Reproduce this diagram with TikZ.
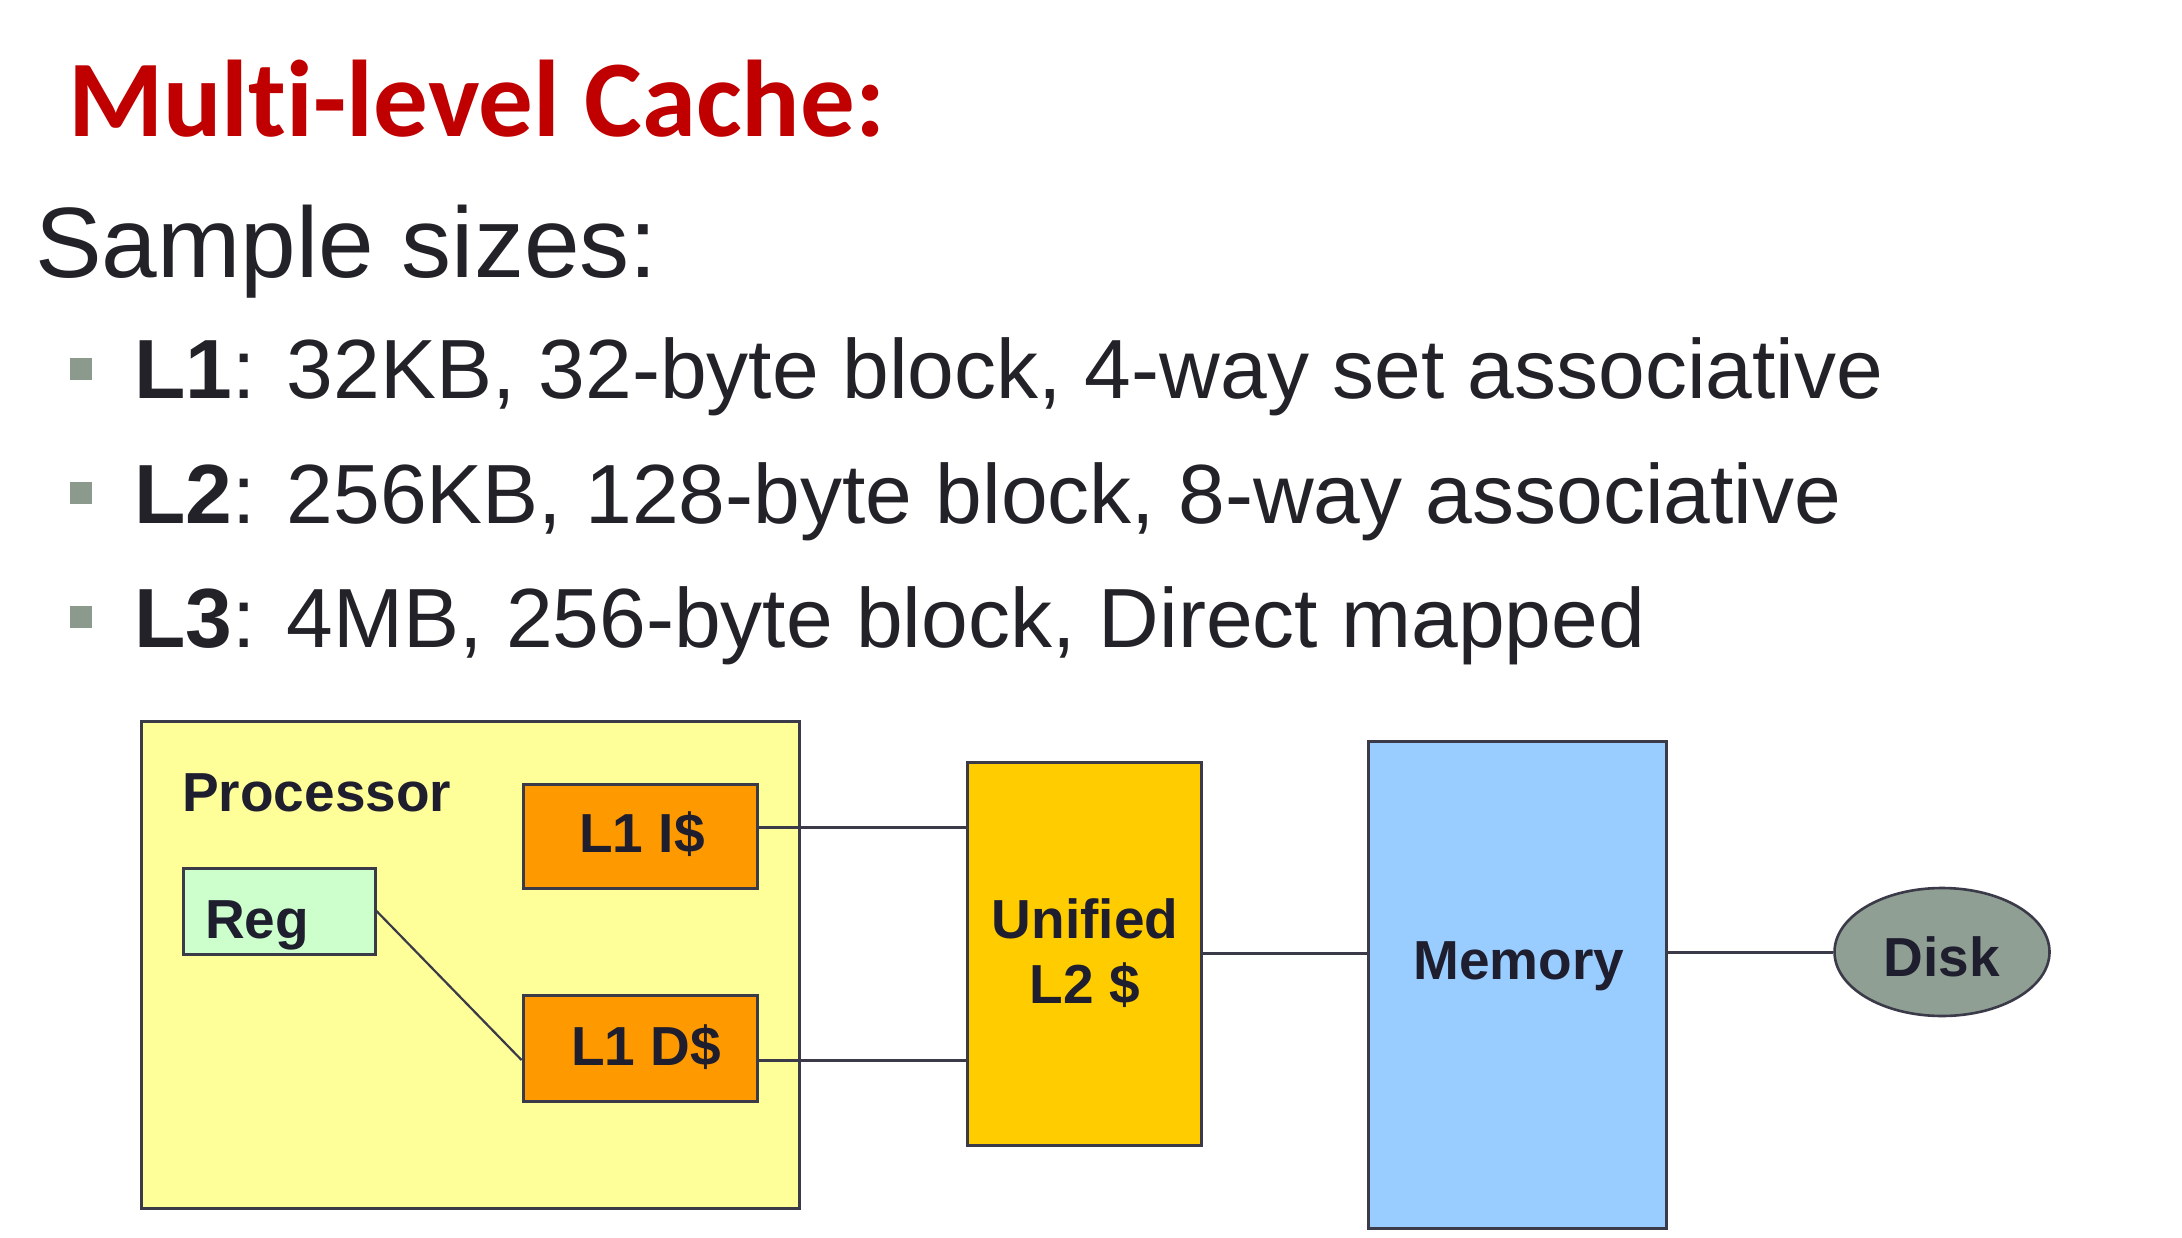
\documentclass[tikz,border=0pt]{standalone}
\usepackage{fontspec}
\setmainfont{Liberation Sans}
\newfontfamily\titlefont[Ligatures=NoCommon]{Carlito}
\usetikzlibrary{shapes.geometric,calc}

\definecolor{procfill}{HTML}{FFFF99}
\definecolor{lonefill}{HTML}{FF9900}
\definecolor{regfill}{HTML}{CCFFCC}
\definecolor{ltwofill}{HTML}{FFCC00}
\definecolor{memfill}{HTML}{99CCFF}
\definecolor{diskfill}{HTML}{909F94}
\definecolor{edgecol}{HTML}{3A3A48}
\definecolor{inkcol}{HTML}{1E1E2E}
\definecolor{bodycol}{HTML}{222228}
\definecolor{titlered}{HTML}{C00000}
\definecolor{bulletgrey}{HTML}{8C9A8E}

\tikzset{
  box/.style={draw=edgecol, line width=3pt, inner sep=0pt, rectangle},
  lbl/.style={font=\fontsize{55}{65}\selectfont\bfseries, text=inkcol, inner sep=0pt},
  wire/.style={draw=edgecol, line width=3pt},
  bulletsq/.style={fill=bulletgrey, minimum size=22pt, inner sep=0pt},
  itemtext/.style={font=\fontsize{84}{100}\selectfont, text=bodycol, inner sep=0pt, anchor=base west},
}

\begin{document}
\begin{tikzpicture}[x=1pt, y=-1pt]
  \fill[white] (0,0) rectangle (2182,1238);
  \useasboundingbox (0,0) rectangle (2182,1238);

  % heading and list
  \node[anchor=base west, inner sep=0pt, text=titlered,
        font=\titlefont\bfseries\fontsize{109}{120}\selectfont] (title) at (68,137) {Multi-level Cache:};
  \node[anchor=base west, inner sep=0pt, text=bodycol,
        font=\fontsize{100}{120}\selectfont] (sample) at (35,278) {Sample sizes:};

  \node[bulletsq] (b1) at (81,369) {};
  \node[bulletsq] (b2) at (81,493) {};
  \node[bulletsq] (b3) at (81,617) {};
  \node[itemtext] (t1) at (134,399) {\textbf{L1}: 32KB, 32-byte block, 4-way set associative};
  \node[itemtext] (t2) at (134,523) {\textbf{L2}: 256KB, 128-byte block, 8-way associative};
  \node[itemtext] (t3) at (134,647) {\textbf{L3}: 4MB, 256-byte block, Direct mapped};

  % hierarchy boxes
  \node[box, fill=procfill, minimum width=658pt, minimum height=487pt] (proc) at (470,964.5) {};
  \node[box, fill=lonefill, minimum width=234pt, minimum height=104pt] (lonei) at (640,836) {};
  \node[box, fill=lonefill, minimum width=234pt, minimum height=106pt] (loned) at (640,1048) {};
  \node[box, fill=regfill, minimum width=192pt, minimum height=86pt] (reg) at (279,911) {};
  \node[box, fill=ltwofill, minimum width=234pt, minimum height=383pt] (ltwo) at (1084,953.5) {};
  \node[box, fill=memfill, minimum width=298pt, minimum height=487pt] (mem) at (1517,984.5) {};
  \node[draw=edgecol, line width=2.6pt, fill=diskfill, ellipse, inner sep=0pt,
        minimum width=215pt, minimum height=128pt] (disk) at (1942,952) {};

  % labels
  \node[lbl, anchor=base west] (proclbl) at (182,811) {Processor};
  \node[lbl, anchor=base] (loneilbl) at (642,852) {L1 I\$};
  \node[lbl, anchor=base] (lonedlbl) at (646,1065) {L1 D\$};
  \node[lbl, anchor=base west] (reglbl) at (205,938) {Reg};
  \node[lbl, anchor=base] (ltwolbla) at (1085,938) {Unified};
  \node[lbl, anchor=base] (ltwolblb) at (1085,1003) {L2 \$};
  \node[lbl, anchor=base] (memlbl) at (1519,979) {Memory};
  \node[lbl, anchor=base] (disklbl) at (1942,976) {Disk};

  % connections
  \coordinate (iout) at ($(lonei.east)+(0,-9)$);
  \coordinate (dout) at ($(loned.east)+(0,12)$);
  \draw[wire] (iout) -- (iout -| ltwo.west);
  \draw[wire] (dout) -- (dout -| ltwo.west);
  \draw[wire, line width=2.2pt] (reg.east) -- (dout -| loned.west);
  \draw[wire] (ltwo.east) -- (ltwo.east -| mem.west);
  \draw[wire] (disk.west -| mem.east) -- (disk.west);
\end{tikzpicture}
\end{document}
